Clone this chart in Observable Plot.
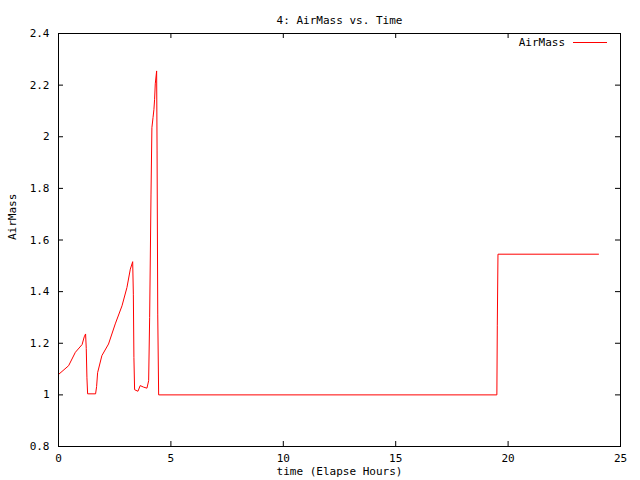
<!DOCTYPE html>
<html>
<head>
<meta charset="utf-8">
<script src="https://cdn.jsdelivr.net/npm/d3@7"></script>
<script src="https://cdn.jsdelivr.net/npm/@observablehq/plot@0.6"></script>
<style>
  html, body { margin: 0; padding: 0; background: #fff; }
  #wrap { position: relative; width: 640px; height: 480px; font-family: "DejaVu Sans Mono", monospace; font-size: 11px; }
  #legend { position: absolute; top: 35px; right: 33px; height: 15px; display: flex; align-items: center; gap: 8px; color: #000; }
  #legend svg { display: block; }
</style>
</head>
<body>
<div id="wrap">
  <div id="legend"><span id="legtext"></span><svg width="34" height="3"><line x1="0" x2="34" y1="1.5" y2="1.5" stroke="#ff0000" stroke-width="1"></line></svg></div>
</div>
<script>
const titleText = "4: AirMass vs. Time";
const xLabel = "time (Elapse Hours)";
const yLabel = "AirMass";
const seriesName = "AirMass";

const times = [0.00, 0.45, 0.75, 1.05, 1.145, 1.205, 1.235, 1.265, 1.295, 1.65, 1.695, 1.74, 1.93, 2.225, 2.525, 2.825, 3.045, 3.195, 3.30, 3.33, 3.355, 3.385, 3.535, 3.635, 3.785, 3.935, 4.01, 4.055, 4.115, 4.155, 4.205, 4.245, 4.275, 4.305, 4.365, 4.385, 4.415, 4.455, 19.50, 19.52, 19.55, 24.02];
const airmass = [1.079, 1.113, 1.165, 1.195, 1.225, 1.236, 1.18, 1.066, 1.004, 1.004, 1.032, 1.086, 1.152, 1.197, 1.275, 1.345, 1.416, 1.487, 1.516, 1.39, 1.145, 1.02, 1.014, 1.036, 1.03, 1.026, 1.055, 1.30, 1.778, 2.035, 2.074, 2.106, 2.145, 2.205, 2.255, 1.945, 1.313, 1.0, 1.0, 1.27, 1.545, 1.545];

const xTicks = [0, 5, 10, 15, 20, 25];
const xTickLabels = ["0", "5", "10", "15", "20", "25"];
const yTicks = [0.8, 1.0, 1.2, 1.4, 1.6, 1.8, 2.0, 2.2, 2.4];
const yTickLabels = ["0.8", "1", "1.2", "1.4", "1.6", "1.8", "2", "2.2", "2.4"];

document.getElementById("legtext").textContent = seriesName;

const data = times.map((t, i) => ({t, v: airmass[i]}));
const xMin = xTicks[0], xMax = xTicks[xTicks.length - 1];
const yMin = yTicks[0], yMax = yTicks[yTicks.length - 1];

const W = 640, H = 480, mL = 58, mR = 20, mT = 33, mB = 34;
const TL = 5; // tick length in pixels, drawn inward
const xLen = TL * (xMax - xMin) / (W - mL - mR);
const yLen = TL * (yMax - yMin) / (H - mT - mB);

const chart = Plot.plot({
  width: W,
  height: H,
  marginLeft: mL,
  marginRight: mR,
  marginTop: mT,
  marginBottom: mB,
  style: {fontFamily: "DejaVu Sans Mono, monospace", fontSize: "11px", color: "#000", background: "#fff"},
  x: {domain: [xMin, xMax]},
  y: {domain: [yMin, yMax]},
  marks: [
    Plot.axisX(xTicks, {anchor: "bottom", tickSize: 0, tickPadding: 8, tickFormat: (d, i) => xTickLabels[i], label: null}),
    Plot.axisY(yTicks, {anchor: "left", tickSize: 0, tickPadding: 9, tickFormat: (d, i) => yTickLabels[i], label: null}),
    // inward ticks, mirrored on all four sides
    Plot.ruleX(xTicks, {x: d => d, y1: yMin, y2: yMin + yLen, stroke: "#000"}),
    Plot.ruleX(xTicks, {x: d => d, y1: yMax - yLen, y2: yMax, stroke: "#000"}),
    Plot.ruleY(yTicks, {y: d => d, x1: xMin, x2: xMin + xLen, stroke: "#000"}),
    Plot.ruleY(yTicks, {y: d => d, x1: xMax - xLen, x2: xMax, stroke: "#000"}),
    Plot.line(data, {x: "t", y: "v", stroke: "#ff0000", strokeWidth: 1}),
    Plot.frame({stroke: "#000", strokeWidth: 1}),
    Plot.text([titleText], {frameAnchor: "top", dy: -17, fill: "#000"}),
    Plot.text([xLabel], {frameAnchor: "bottom", dy: 28, fill: "#000"}),
    Plot.text([yLabel], {frameAnchor: "left", dx: -46, rotate: -90, fill: "#000"})
  ]
});
document.getElementById("wrap").prepend(chart);
</script>
</body>
</html>
